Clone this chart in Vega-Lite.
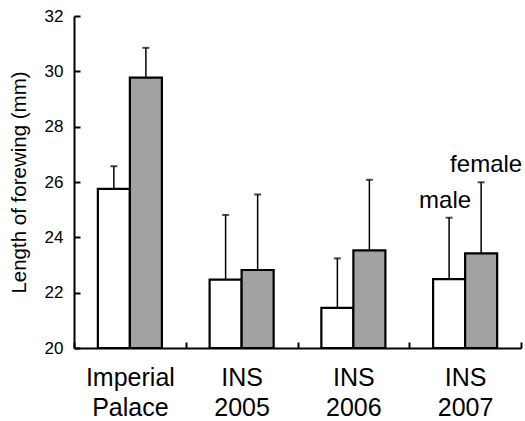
{
  "$schema": "https://vega.github.io/schema/vega-lite/v6.json",
  "width": 447,
  "height": 332,
  "autosize": "none",
  "padding": {"left": 74, "top": 16, "right": 4, "bottom": 73},
  "background": "white",
  "config": {
    "view": {"stroke": null},
    "font": "Liberation Sans"
  },
  "data": {
    "values": [
      {"site": "Imperial Palace", "sex": "male", "mean": 25.75, "upper": 26.57},
      {"site": "Imperial Palace", "sex": "female", "mean": 29.77, "upper": 30.85},
      {"site": "INS 2005", "sex": "male", "mean": 22.47, "upper": 24.81},
      {"site": "INS 2005", "sex": "female", "mean": 22.82, "upper": 25.55},
      {"site": "INS 2006", "sex": "male", "mean": 21.45, "upper": 23.24},
      {"site": "INS 2006", "sex": "female", "mean": 23.53, "upper": 26.08},
      {"site": "INS 2007", "sex": "male", "mean": 22.49, "upper": 24.71},
      {"site": "INS 2007", "sex": "female", "mean": 23.42, "upper": 25.99}
    ]
  },
  "encoding": {
    "x": {
      "field": "site",
      "type": "nominal",
      "sort": null,
      "scale": {"paddingInner": 0, "paddingOuter": 0},
      "axis": {
        "title": null,
        "labelAngle": 0,
        "labelExpr": "datum.value ? split(datum.value, ' ') : ''",
        "labelFontSize": 25,
        "labelColor": "black",
        "labelPadding": 23,
        "labelLineHeight": 30,
        "tickBand": "extent",
        "tickSize": -6,
        "tickColor": "black",
        "tickWidth": 2,
        "domainColor": "black",
        "domainWidth": 2
      }
    },
    "xOffset": {
      "field": "sex",
      "type": "nominal",
      "sort": ["male", "female"],
      "scale": {"paddingInner": 0, "paddingOuter": 0.745}
    }
  },
  "layer": [
    {
      "mark": {"type": "rule", "stroke": "black", "strokeWidth": 1.5},
      "encoding": {
        "y": {"field": "mean", "type": "quantitative"},
        "y2": {"field": "upper"}
      }
    },
    {
      "mark": {"type": "tick", "orient": "horizontal", "size": 7, "thickness": 2, "color": "black"},
      "encoding": {
        "y": {"field": "upper", "type": "quantitative"}
      }
    },
    {
      "mark": {"type": "bar", "stroke": "black", "strokeWidth": 2.2},
      "encoding": {
        "y": {
          "field": "mean",
          "type": "quantitative",
          "scale": {"domain": [20, 32], "zero": false, "nice": false},
          "axis": {
            "title": "Length of forewing (mm)",
            "titleFontSize": 20.5,
            "titleFontWeight": "normal",
            "titleColor": "black",
            "titlePadding": 15,
            "values": [20, 22, 24, 26, 28, 30, 32],
            "grid": false,
            "labelFontSize": 17,
            "labelColor": "black",
            "labelPadding": 17,
            "tickSize": -6,
            "tickWidth": 2,
            "tickColor": "black",
            "domainColor": "black",
            "domainWidth": 2
          }
        },
        "y2": {"datum": 20},
        "fill": {
          "field": "sex",
          "type": "nominal",
          "scale": {"domain": ["male", "female"], "range": ["white", "#a2a2a2"]},
          "legend": null
        }
      }
    },
    {
      "data": {
        "values": [
          {"site": "INS 2007", "sex": "male", "pos": 25.05, "label": "male"}
        ]
      },
      "mark": {"type": "text", "fontSize": 24, "baseline": "alphabetic", "color": "black", "dx": -4},
      "encoding": {
        "y": {"field": "pos", "type": "quantitative"},
        "text": {"field": "label"}
      }
    },
    {
      "data": {
        "values": [
          {"site": "INS 2007", "sex": "female", "pos": 26.35, "label": "female"}
        ]
      },
      "mark": {"type": "text", "fontSize": 24, "baseline": "alphabetic", "color": "black", "dx": 5},
      "encoding": {
        "y": {"field": "pos", "type": "quantitative"},
        "text": {"field": "label"}
      }
    }
  ]
}
